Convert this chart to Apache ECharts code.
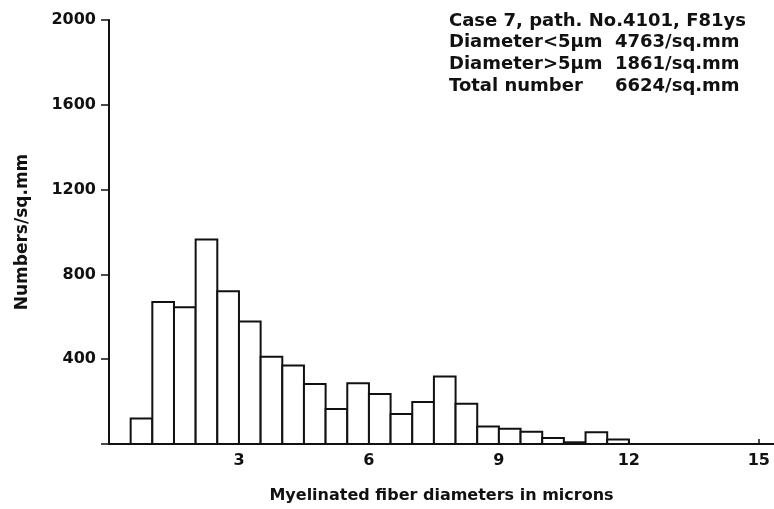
<!DOCTYPE html>
<html>
<head>
<meta charset="utf-8">
<script src="https://cdn.jsdelivr.net/npm/echarts@6/dist/echarts.min.js"></script>
<style>
  html, body { margin: 0; padding: 0; background: #fff; }
  #chart { width: 774px; height: 509px; }
</style>
</head>
<body>
<div id="chart"></div>
<script>
// Histogram bins: each bin is 0.5 micron wide, starting at binStart
const binStart = [0.5, 1.0, 1.5, 2.0, 2.5, 3.0, 3.5, 4.0, 4.5, 5.0, 5.5, 6.0,
                  6.5, 7.0, 7.5, 8.0, 8.5, 9.0, 9.5, 10.0, 10.5, 11.0, 11.5];
const binWidth = 0.5;
const fiberCounts = [120, 670, 645, 965, 720, 578, 412, 370, 283, 165, 287, 236,
                     142, 198, 318, 190, 83, 72, 58, 28, 8, 55, 21];

const xTicks = [0, 3, 6, 9, 12, 15];
const yTicks = [0, 400, 800, 1200, 1600, 2000];

const infoLines = [
  ['Case 7, path. No.4101, F81ys', ''],
  ['Diameter<5μm', '4763/sq.mm'],
  ['Diameter>5μm', '1861/sq.mm'],
  ['Total number', '6624/sq.mm']
];

const FONT = 'DejaVu Sans';
const INK = '#111';

const chart = echarts.init(document.getElementById('chart'), null, { renderer: 'canvas' });

// Summary block in the upper right corner
const infoGraphics = [];
infoLines.forEach((line, i) => {
  infoGraphics.push({
    type: 'text', left: 449, top: 12 + i * 21.7,
    style: { text: line[0], font: 'bold 18px "' + FONT + '"', fill: INK }
  });
  if (line[1]) {
    infoGraphics.push({
      type: 'text', left: 615, top: 12 + i * 21.7,
      style: { text: line[1], font: 'bold 18px "' + FONT + '"', fill: INK }
    });
  }
});

chart.setOption({
  animation: false,
  backgroundColor: '#fff',
  grid: { left: 109, right: 0, top: 20, bottom: 60, containLabel: false },
  xAxis: {
    type: 'value', min: xTicks[0], max: 15.35, interval: 3,
    name: 'Myelinated fiber diameters in microns',
    nameLocation: 'middle', nameGap: 44,
    nameTextStyle: { fontFamily: FONT, fontSize: 16, fontWeight: 'bold', color: INK },
    axisLine: { show: true, onZero: false, lineStyle: { color: INK, width: 2 } },
    axisTick: { show: true, inside: true, length: 5, lineStyle: { color: INK, width: 1.5 } },
    axisLabel: {
      fontFamily: FONT, fontSize: 16, fontWeight: 'bold', color: INK, margin: 9,
      showMaxLabel: false,
      formatter: v => (xTicks.indexOf(v) > 0 ? String(v) : '')
    },
    splitLine: { show: false }
  },
  yAxis: {
    type: 'value', min: yTicks[0], max: yTicks[yTicks.length - 1], interval: 400,
    name: 'Numbers/sq.mm', nameLocation: 'middle', nameGap: 78, nameRotate: 90,
    nameTextStyle: { fontFamily: FONT, fontSize: 17, fontWeight: 'bold', color: INK },
    axisLine: { show: true, lineStyle: { color: INK, width: 2 } },
    axisTick: { show: true, inside: false, length: 8, lineStyle: { color: INK, width: 1.5 } },
    axisLabel: {
      fontFamily: FONT, fontSize: 16, fontWeight: 'bold', color: INK, margin: 13,
      formatter: v => (v === 0 ? '' : String(v))
    },
    splitLine: { show: false }
  },
  graphic: infoGraphics,
  series: [{
    type: 'custom',
    data: binStart.map((s, i) => [s, s + binWidth, fiberCounts[i]]),
    renderItem: (params, api) => {
      const p0 = api.coord([api.value(0), 0]);
      const p1 = api.coord([api.value(1), api.value(2)]);
      return {
        type: 'rect',
        shape: { x: p0[0], y: p1[1], width: p1[0] - p0[0], height: p0[1] - p1[1] },
        style: { fill: '#fff', stroke: INK, lineWidth: 2 }
      };
    },
    encode: { x: [0, 1], y: 2 }
  }]
});
</script>
</body>
</html>
